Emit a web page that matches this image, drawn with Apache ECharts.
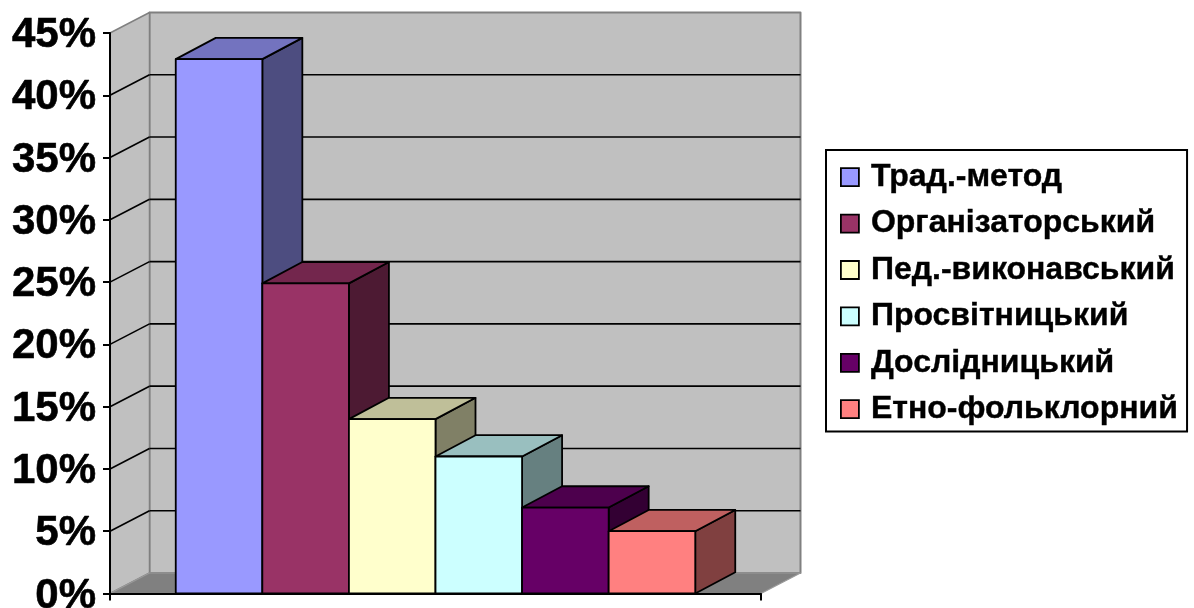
<!DOCTYPE html>
<html>
<head>
<meta charset="utf-8">
<style>html,body{margin:0;padding:0;background:#fff}#c{width:1194px;height:608px}</style>
<script src="https://cdn.jsdelivr.net/npm/echarts@6/dist/echarts.min.js"></script>
</head>
<body>
<div id="c"></div>
<script>
const names = ['Трад.-метод','Організаторський','Пед.-виконавський','Просвітницький','Дослідницький','Етно-фольклорний'];
const values = [42.9, 24.9, 14, 11, 6.9, 5];
const gridTicks = [0,5,10,15,20,25,30,35,40,45];
const colors = ['#9999FF','#993366','#FFFFCC','#CCFFFF','#660066','#FF8080'];

const DX = 39.5, DY = -20.5, BAR_DX = 40, BAR_DY = -21.3, BAND_FILL = 0.798;
const FONT = '"Liberation Sans", Arial, sans-serif';
const GRAY = '#808080';

function shade(hex, f) {
  const n = parseInt(hex.slice(1), 16);
  const ch = s => Math.round(((n >> s) & 255) * f);
  return 'rgb(' + ch(16) + ',' + ch(8) + ',' + ch(0) + ')';
}
function poly(points, fill, stroke, lw) {
  return { type:'polygon', shape:{points}, style:{fill, stroke, lineWidth:lw, lineJoin:'round'} };
}
function line(a, b, stroke, lw) {
  return { type:'line', shape:{x1:a[0],y1:a[1],x2:b[0],y2:b[1]}, style:{stroke, lineWidth:lw} };
}
function back(p){ return [p[0]+DX, p[1]+DY]; }
function barBack(p){ return [p[0]+BAR_DX, p[1]+BAR_DY]; }

function renderWalls(params, api) {
  const band = api.size([1,0])[0];
  const cx = api.coord([0,0])[0];
  const L = cx - band/2, R = cx + band/2;
  const y0 = api.coord([0,0])[1], yTop = api.coord([0,45])[1];
  const kids = [];
  kids.push(poly([back([L,y0]),back([L,yTop]),back([R,yTop]),back([R,y0])],'#C0C0C0',GRAY,2));
  kids.push(poly([[L,y0],[L,yTop],back([L,yTop]),back([L,y0])],'#C0C0C0',GRAY,1.5));
  kids.push(poly([[L,y0],back([L,y0]),back([R,y0]),[R,y0]],GRAY,'#9a9a9a',1.2));
  gridTicks.slice(1,-1).forEach(t=>{
    const y = api.coord([0,t])[1];
    kids.push(line([L,y],back([L,y]),'#000',1.6));
    kids.push(line(back([L,y]),back([R,y]),'#000',1.6));
  });
  return {type:'group',children:kids};
}

function renderBar(idx) {
  return function(params, api) {
    const band = api.size([1,0])[0];
    const w = band*BAND_FILL/values.length;
    const c = api.coord([0,api.value(1)]);
    const base = api.coord([0,0])[1];
    const x0 = c[0]+(idx-values.length/2)*w, x1 = x0+w, y = c[1];
    const col = colors[idx];
    return {type:'group',children:[
      poly([[x1,base],[x1,y],barBack([x1,y]),barBack([x1,base])], shade(col,0.5), '#000', 1.8),
      poly([[x0,y],barBack([x0,y]),barBack([x1,y]),[x1,y]], shade(col,0.75), '#000', 1.8),
      poly([[x0,base],[x0,y],[x1,y],[x1,base]], col, '#000', 1.8)
    ]};
  };
}

const series = [{
  type:'custom', name:'walls', z:1, silent:true,
  renderItem:renderWalls, data:[[0,0]], encode:{x:0,y:1}
}].concat(names.map((n,i)=>({
  type:'custom', name:n, z:4, silent:true,
  renderItem:renderBar(i), data:[[0,values[i]]], encode:{x:0,y:1},
  itemStyle:{color:colors[i]}
})));

const chart = echarts.init(document.getElementById('c'));
chart.setOption({
  animation:false,
  backgroundColor:'#fff',
  grid:{left:110,top:33,width:651,height:560.5,containLabel:false,outerBoundsMode:'none'},
  xAxis:{
    type:'category', data:[''], z:3,
    axisLine:{show:true,lineStyle:{color:'#000',width:2}},
    axisTick:{show:true,length:7,lineStyle:{color:'#000',width:2}},
    axisLabel:{show:false}, splitLine:{show:false}
  },
  yAxis:{
    type:'value', min:0, max:45, interval:5, z:3,
    axisLine:{show:true,onZero:false,lineStyle:{color:'#000',width:2}},
    axisTick:{show:true,length:7,lineStyle:{color:'#000',width:2}},
    axisLabel:{formatter:'{value}%',margin:14,verticalAlign:'top',lineHeight:5,fontFamily:FONT,fontWeight:'bold',fontSize:42,color:'#000',textBorderColor:'#000',textBorderWidth:0.6,showMinLabel:true,showMaxLabel:true,hideOverlap:false},
    splitLine:{show:false}
  },
  legend:{
    left:826, top:150, orient:'vertical', icon:'rect',
    itemWidth:18, itemHeight:18, itemGap:14,
    padding:[11,9,6,14],
    borderColor:'#000', borderWidth:2, backgroundColor:'#fff',
    itemStyle:{borderColor:'#000',borderWidth:1.8},
    textStyle:{fontFamily:FONT,fontWeight:'bold',fontSize:32,color:'#000',padding:[0,0,0,7],textBorderColor:'#000',textBorderWidth:0.4},
    data:names
  },
  series
});
</script>
</body>
</html>
